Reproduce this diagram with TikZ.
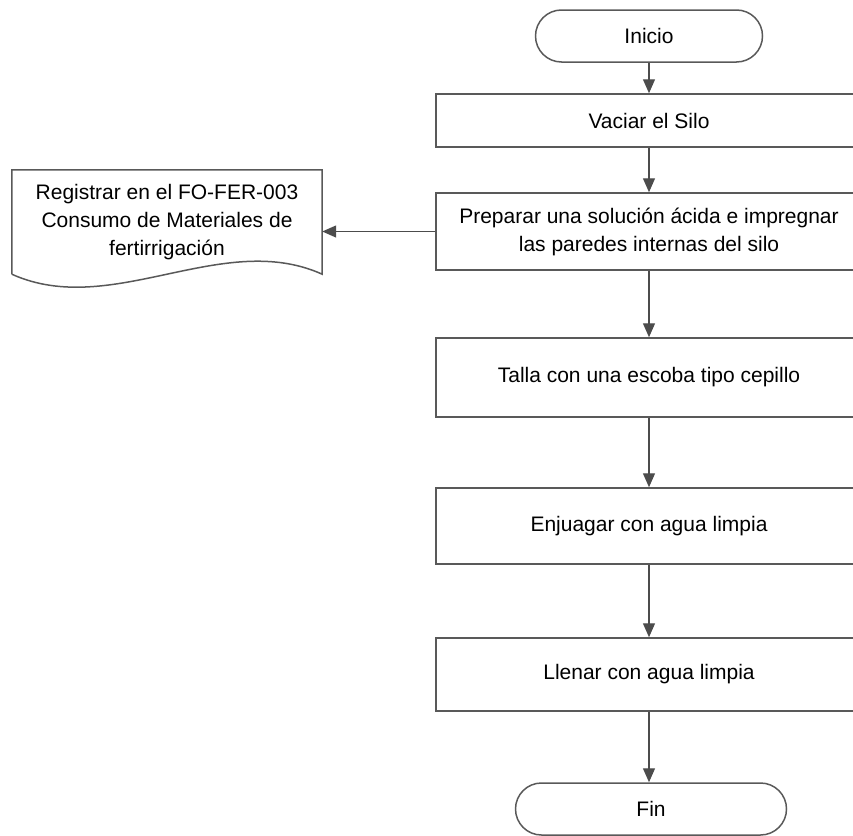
\documentclass[tikz,border=0pt]{standalone}
\usepackage{fontspec}
\setmainfont{Liberation Sans}
\usetikzlibrary{shapes.misc,arrows.meta}

\begin{document}
\begin{tikzpicture}[x=1pt,y=-1pt,
	font=\fontsize{21}{28}\selectfont,
	paso/.style={draw=black!65, line width=1.5pt, rectangle, minimum width=426pt, inner sep=0pt, align=center, text=black},
	terminal/.style={draw=black!65, line width=1.5pt, rounded rectangle, minimum height=52pt, inner sep=0pt, text=black},
	documento/.style={rectangle, minimum width=310pt, minimum height=104pt, inner sep=0pt, align=center, text=black},
	borde/.style={draw=black!65, line width=1.5pt},
	flecha/.style={draw=black!70, line width=1.3pt, -{Triangle[width=12pt,length=14pt]}}]
	
	\useasboundingbox (0,0) rectangle (853,835);
	\clip (0,0) rectangle (853,835);
	
	\node[terminal, minimum width=227pt] (inicio) at (649,36) {Inicio};
	\node[paso, minimum height=53pt] (vaciar) at (649,120.5) {Vaciar el Silo};
	\node[paso, minimum height=77pt] (preparar) at (649,231.5) {Preparar una solución ácida e impregnar\\las paredes internas del silo};
	\node[paso, minimum height=79pt] (talla) at (649,377.5) {Talla con una escoba tipo cepillo};
	\node[paso, minimum height=76pt] (enjuagar) at (649,526) {Enjuagar con agua limpia};
	\node[paso, minimum height=73pt] (llenar) at (649,674.5) {Llenar con agua limpia};
	\node[terminal, minimum width=271pt] (fin) at (651,809) {Fin};
	
	\node[documento] (registro) at (167,222) {Registrar en el FO-FER-003\\Consumo de Materiales de\\fertirrigación};
	\draw[borde] (registro.south west) -- (registro.north west) -- (registro.north east) -- (registro.south east)
		.. controls +(-100,-45) and +(100,45) .. (registro.south west);
	
	\draw[flecha] (inicio.south) -- (vaciar.north);
	\draw[flecha] (vaciar.south) -- (preparar.north);
	\draw[flecha] (preparar.west) -- (preparar.west -| registro.east);
	\draw[flecha] (preparar.south) -- (talla.north);
	\draw[flecha] (talla.south) -- (enjuagar.north);
	\draw[flecha] (enjuagar.south) -- (llenar.north);
	\draw[flecha] (llenar.south) -- (llenar.south |- fin.north);
	
\end{tikzpicture}
\end{document}
